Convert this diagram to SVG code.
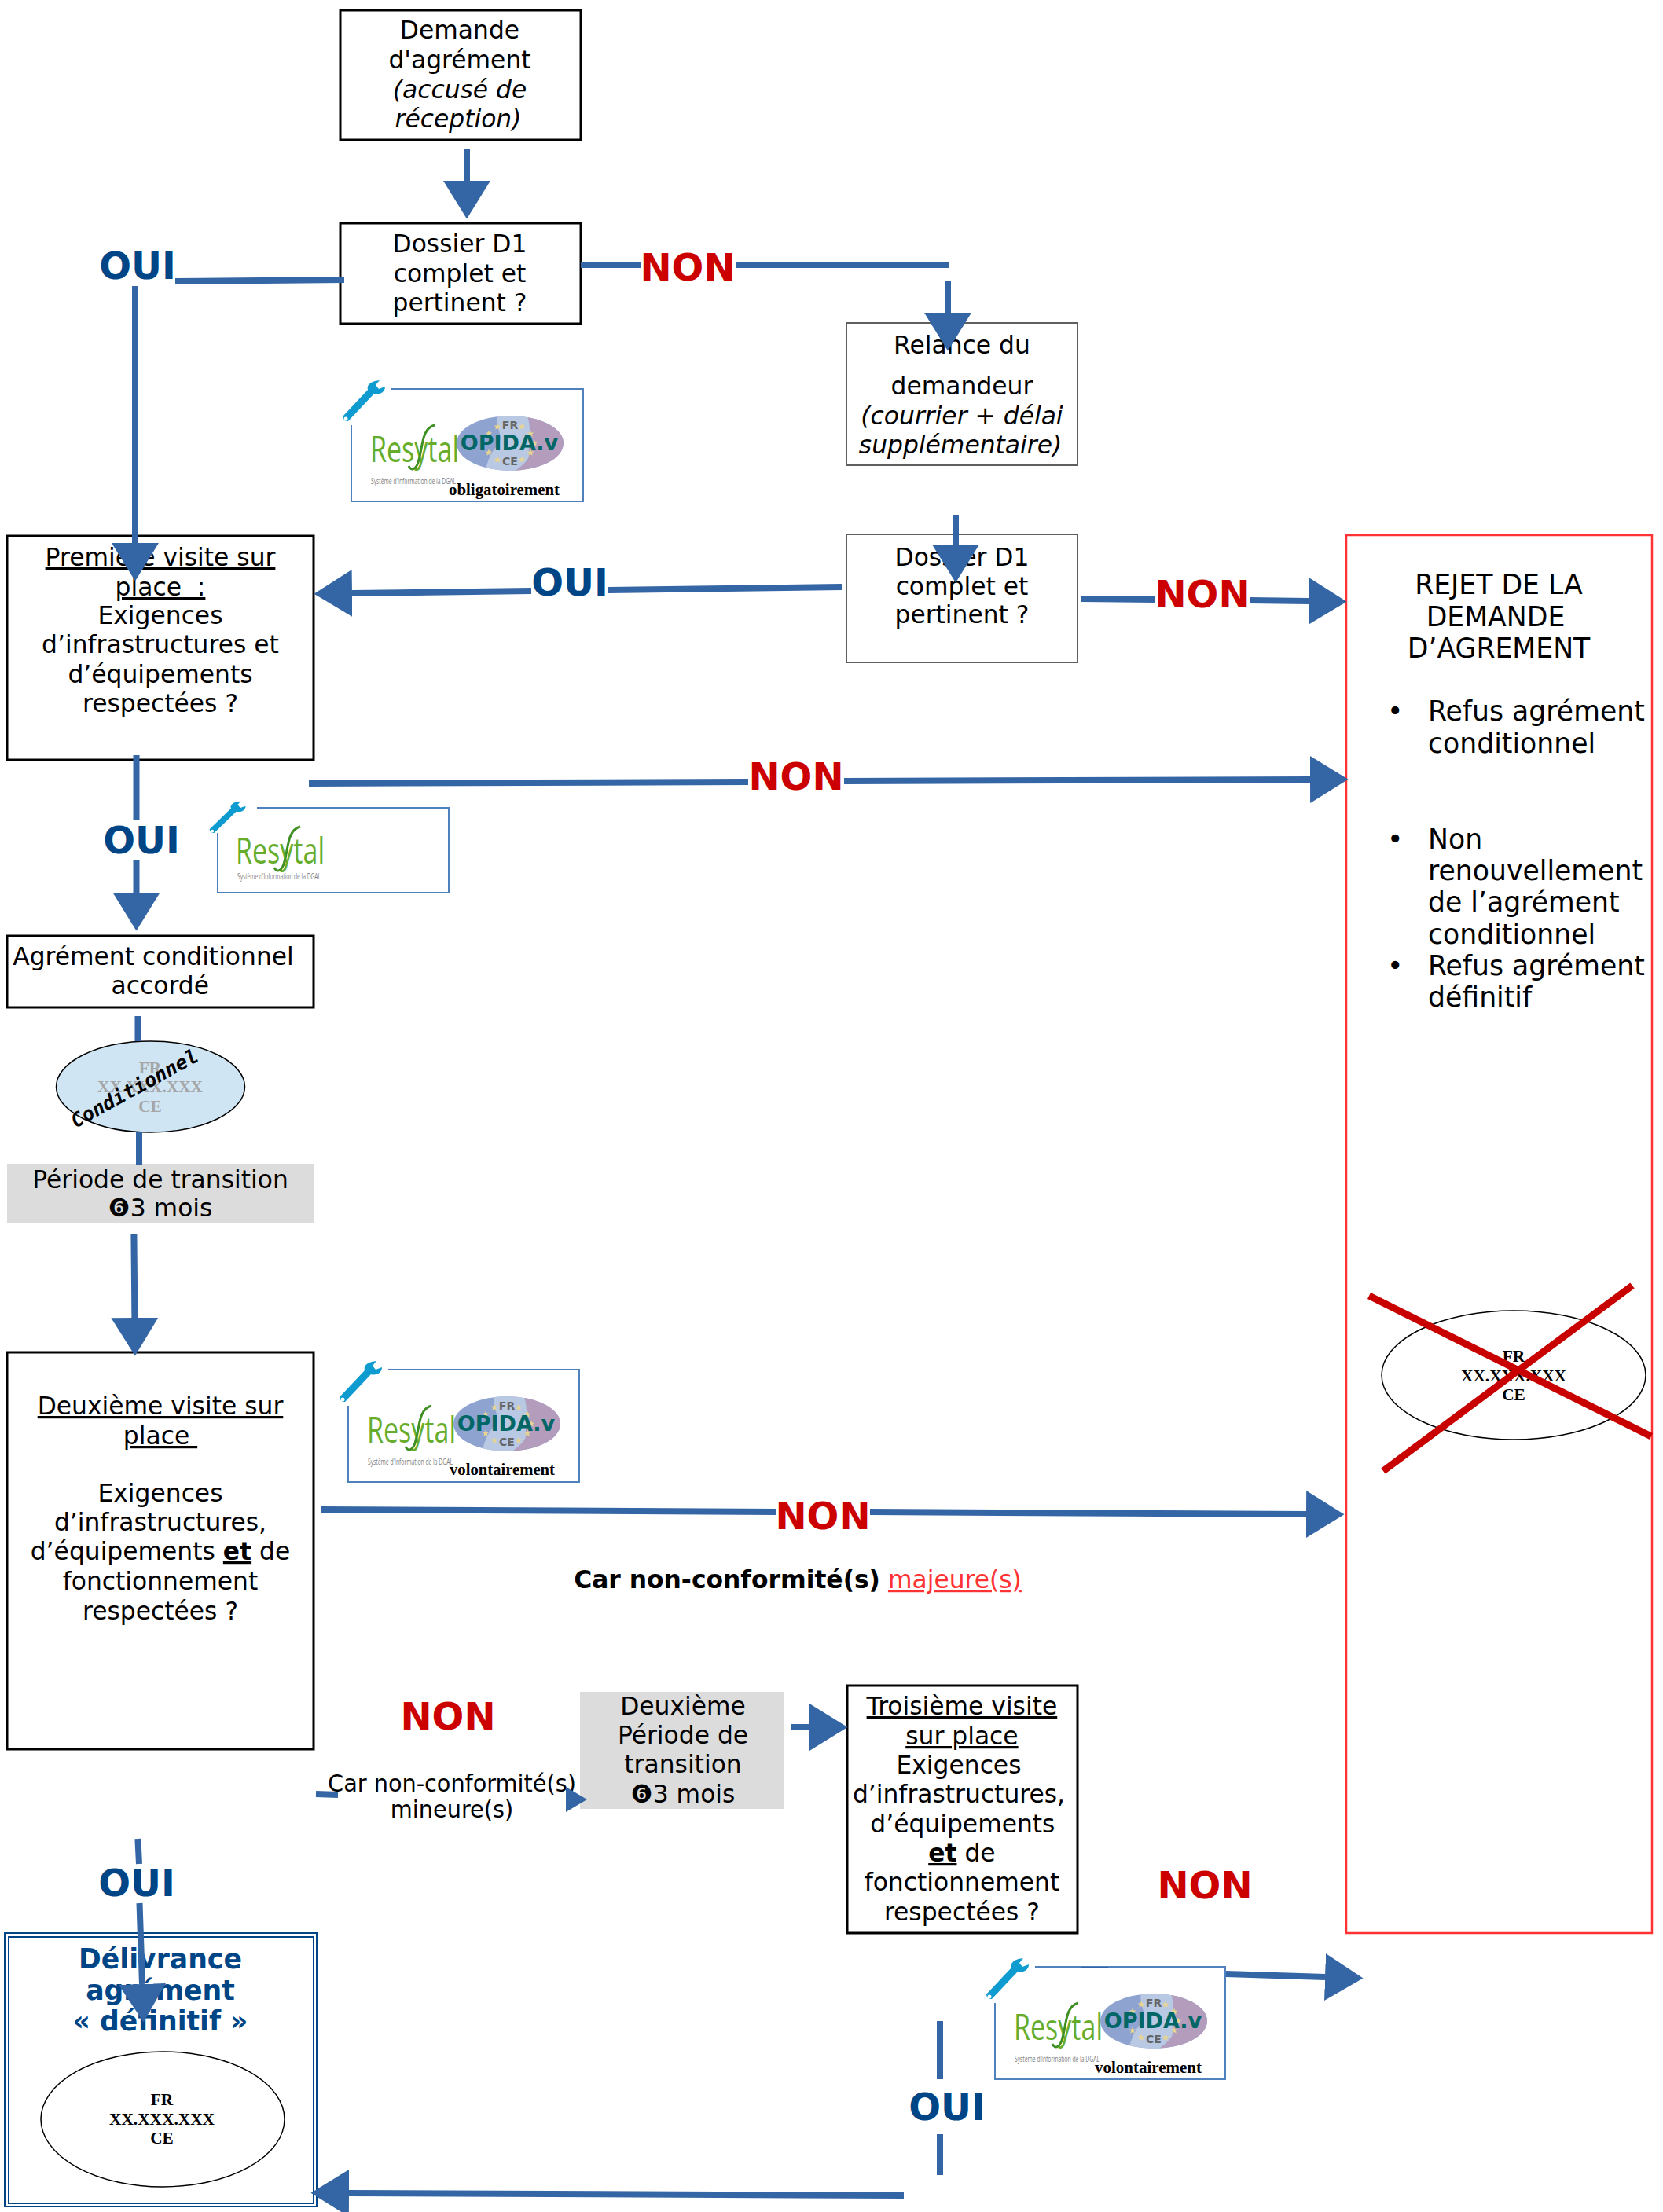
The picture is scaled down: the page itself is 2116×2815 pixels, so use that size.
<svg xmlns="http://www.w3.org/2000/svg" width="2116" height="2815" viewBox="0 0 2116 2815">
<style>
text{font-family:"DejaVu Sans",sans-serif;fill:#000}
.t{font-size:32px;text-anchor:middle;transform-box:fill-box;transform-origin:center;transform:scaleX(.98)}
.r{font-size:34.67px}
.nos{transform:none}
.i{font-style:italic}
.u{text-decoration:underline}
.b{font-weight:bold}
.oui{font-size:48px;font-weight:bold;fill:#004586;text-anchor:middle}
.non{font-size:48px;font-weight:bold;fill:#cc0000;text-anchor:middle}
.box{fill:#fff;stroke:#000;stroke-width:3}
.thin{fill:#fff;stroke:#5f5f5f;stroke-width:2}
.grey{fill:#dcdcdc}
.seal{fill:#fff;stroke:#000;stroke-width:1.5}
.s{font-family:"Liberation Serif",serif;font-weight:bold;font-size:21.33px;text-anchor:middle}
.frame{fill:none;stroke:#4f81bd;stroke-width:2}
.res{font-family:"Open Sans",sans-serif;font-size:45px;fill:#66ad2c}
.sys{font-family:"Open Sans",sans-serif;font-size:10px;fill:#808080}
.op{font-size:27px;font-weight:bold;fill:#006666;text-anchor:middle}
.fc{font-size:14px;font-weight:bold;fill:#666;text-anchor:middle}
.word{font-family:"Liberation Serif",serif;font-weight:bold;font-size:22px}
.c line{stroke:#3465a4;stroke-width:8;fill:none}
.x{stroke:#c80000;stroke-width:9}
</style>
<defs>
<marker id="h" markerUnits="userSpaceOnUse" markerWidth="50" markerHeight="60" refX="0" refY="30" orient="auto"><path d="M0 0L48.500 30L0 60z" fill="#3465a4"/></marker>
<clipPath id="oc"><ellipse cx="202" cy="69" rx="68" ry="35"/></clipPath>
<polygon id="st" points="0,-4.5 1.2,-1.5 4.5,-1.4 1.9,.6 2.8,3.8 0,2 -2.8,3.8 -1.9,.6 -4.5,-1.4 -1.2,-1.5" fill="#e6d492"/>
<g id="wrench"><path d="M-11 35L21 1C19-6 26-10 36-11L31-5L35 0L43-3C43 4 36 8 29 6L-4 41A6 6 0 0 1-11 35Z" fill="#0e9bd0"/><circle cx="-7" cy="38" r="2.500" fill="#fff"/></g>
<path id="swoosh" d="M106 46C90 50 91 72 86 90C83 103 76 105 73 98" fill="none" stroke="#3f8f23" stroke-width="3"/>
<g id="oval">
<g clip-path="url(#oc)"><rect x="134" y="34" width="136" height="70" fill="#8fa3d1"/><path d="M222 30C232 50 224 80 226 86C222 96 212 100 205 108L270 108V30Z" fill="#b49cbc"/><path d="M186 30C182 50 196 60 186 72C176 82 172 96 170 108L205 108C212 100 222 96 226 86C224 80 232 50 222 30Z" fill="#b9c9e4"/></g>
<use href="#st" x="186" y="48"/><use href="#st" x="217" y="48"/><use href="#st" x="175" y="57"/><use href="#st" x="228" y="57"/><use href="#st" x="233" y="69"/><use href="#st" x="175" y="81"/><use href="#st" x="228" y="81"/><use href="#st" x="186" y="90"/><use href="#st" x="217" y="90"/>
</g>
</defs>

<g id="demande"><rect class="box" x="433" y="13" width="306" height="165"/>
<text class="t"><tspan x="585" y="49">Demande</tspan><tspan x="585" y="87">d'agrément</tspan><tspan class="i" x="585" y="125">(accusé de</tspan><tspan class="i" x="583" y="162">réception)</tspan></text></g>

<g id="dossier1"><rect class="box" x="433" y="284" width="306" height="128"/>
<text class="t"><tspan x="585" y="321">Dossier D1</tspan><tspan x="585" y="359">complet et</tspan><tspan x="585" y="396">pertinent ?</tspan></text></g>

<g id="badge1" transform="translate(447 495)"><path class="frame" d="M0 46V143H295V0H51"/><use href="#wrench"/>
<text class="res" x="24" y="93" textLength="113" lengthAdjust="spacingAndGlyphs">Resytal</text><use href="#swoosh"/>
<text class="sys" x="25" y="121" textLength="108" lengthAdjust="spacingAndGlyphs">Système d'Information de la DGAL</text>
<use href="#oval"/><text class="fc" x="202" y="51">FR</text><text class="op" x="201" y="78">OPIDA.v</text><text class="fc" x="202" y="97">CE</text>
<text class="word" x="124" y="135" textLength="141" lengthAdjust="spacingAndGlyphs">obligatoirement</text></g>

<g id="relance"><rect class="thin" x="1077" y="411" width="294" height="181"/>
<text class="t"><tspan x="1224" y="450">Relance du</tspan><tspan x="1224" y="502">demandeur</tspan><tspan class="i" x="1224" y="540">(courrier + délai</tspan><tspan class="i" x="1222" y="577">supplémentaire)</tspan></text></g>

<g id="dossier2"><rect class="thin" x="1077" y="680" width="294" height="163"/>
<text class="t"><tspan x="1224" y="720">Dossier D1</tspan><tspan x="1224" y="757">complet et</tspan><tspan x="1224" y="793">pertinent ?</tspan></text></g>

<g id="premiere"><rect class="box" x="9" y="682" width="390" height="285"/>
<text class="t"><tspan class="u" x="204" y="720">Première visite sur</tspan><tspan class="u" x="204" y="758">place&#160; :</tspan><tspan x="204" y="794">Exigences</tspan><tspan x="204" y="831">d’infrastructures et</tspan><tspan x="204" y="869">d’équipements</tspan><tspan x="204" y="906">respectées ?</tspan></text></g>

<g id="rejet"><rect x="1713" y="681" width="389" height="1779" fill="#fff" stroke="#ff3333" stroke-width="2.500"/>
<text class="t r nos"><tspan x="1907" y="756">REJET DE LA</tspan><tspan x="1903" y="797">DEMANDE</tspan><tspan x="1907" y="837">D’AGREMENT</tspan></text>
<text class="r"><tspan x="1765" y="917">•</tspan><tspan x="1817" y="917">Refus agrément</tspan><tspan x="1817" y="958">conditionnel</tspan><tspan x="1765" y="1080">•</tspan><tspan x="1817" y="1080">Non</tspan><tspan x="1817" y="1120">renouvellement</tspan><tspan x="1817" y="1160">de l’agrément</tspan><tspan x="1817" y="1201">conditionnel</tspan><tspan x="1765" y="1241">•</tspan><tspan x="1817" y="1241">Refus agrément</tspan><tspan x="1817" y="1281">définitif</tspan></text>
<ellipse class="seal" cx="1926" cy="1750" rx="168" ry="82"/>
<text class="s"><tspan x="1926" y="1733">FR</tspan><tspan x="1926" y="1758">XX.XXX.XXX</tspan><tspan x="1926" y="1782">CE</tspan></text>
<line class="x" x1="1742" y1="1649" x2="2101" y2="1828"/><line class="x" x1="2077" y1="1636" x2="1760" y2="1872"/></g>

<g id="badge2" transform="translate(277 1028)"><path class="frame" d="M0 32V108H294V0H50"/><use href="#wrench" transform="translate(-1 0) scale(.85 .78)"/>
<text class="res" x="23" y="71" textLength="113" lengthAdjust="spacingAndGlyphs">Resytal</text><use href="#swoosh" transform="translate(-1 -22)"/>
<text class="sys" x="25" y="91" textLength="106" lengthAdjust="spacingAndGlyphs">Système d'Information de la DGAL</text></g>

<g id="agrement-conditionnel"><rect class="box" x="9" y="1191" width="390" height="91"/>
<text class="t"><tspan x="195" y="1228">Agrément conditionnel</tspan><tspan x="204" y="1265">accordé</tspan></text></g>

<g id="sceau-conditionnel"><ellipse cx="191.500" cy="1383" rx="120" ry="58" fill="#cfe5f4" stroke="#000" stroke-width="1.500"/>
<text class="s" style="fill:#a6a6a6"><tspan x="191" y="1366">FR</tspan><tspan x="191" y="1390">XX.XXX.XXX</tspan><tspan x="191" y="1415">CE</tspan></text>
<text transform="translate(96 1436) rotate(-28.7)" style="font-family:'DejaVu Sans Mono',monospace;font-weight:bold;font-style:italic;font-size:25px">Conditionnel</text></g>

<g id="transition1"><rect class="grey" x="9" y="1481" width="390" height="76"/>
<text class="t"><tspan x="204" y="1512">Période de transition</tspan><tspan x="204" y="1548">❻3 mois</tspan></text></g>

<g id="deuxieme"><rect class="box" x="9" y="1721" width="390" height="505"/>
<text class="t"><tspan class="u" x="204" y="1800">Deuxième visite sur</tspan><tspan class="u" x="204" y="1838">place&#160;</tspan><tspan x="204" y="1911">Exigences</tspan><tspan x="204" y="1948">d’infrastructures,</tspan><tspan x="204" y="1985">d’équipements <tspan class="b u">et</tspan> de</tspan><tspan x="204" y="2023">fonctionnement</tspan><tspan x="204" y="2061">respectées ?</tspan></text></g>

<g id="badge3" transform="translate(443 1743)"><path class="frame" d="M0 46V143H294V0H51"/><use href="#wrench"/>
<text class="res" x="24" y="93" textLength="113" lengthAdjust="spacingAndGlyphs">Resytal</text><use href="#swoosh"/>
<text class="sys" x="25" y="121" textLength="108" lengthAdjust="spacingAndGlyphs">Système d'Information de la DGAL</text>
<use href="#oval"/><text class="fc" x="202" y="51">FR</text><text class="op" x="201" y="78">OPIDA.v</text><text class="fc" x="202" y="97">CE</text>
<text class="word" x="129" y="134" textLength="134" lengthAdjust="spacingAndGlyphs">volontairement</text></g>

<g id="motif-majeur"><text class="t" x="1015" y="2021"><tspan class="b">Car non-conformité(s)</tspan> <tspan class="u" style="fill:#ff3333">majeure(s)</tspan></text></g>

<g id="motif-mineur"><text class="t" style="font-size:29.33px"><tspan x="575" y="2280">Car non-conformité(s)</tspan><tspan x="575" y="2313">mineure(s)</tspan></text></g>

<g id="transition2"><rect class="grey" x="738" y="2153" width="259" height="149"/>
<text class="t"><tspan x="869" y="2182">Deuxième</tspan><tspan x="869" y="2219">Période de</tspan><tspan x="869" y="2256">transition</tspan><tspan x="869" y="2294">❻3 mois</tspan></text></g>

<g id="troisieme"><rect class="box" x="1078" y="2145" width="293" height="315"/>
<text class="t"><tspan class="u" x="1224" y="2182">Troisième visite</tspan><tspan class="u" x="1224" y="2220">sur place</tspan><tspan x="1220" y="2257">Exigences</tspan><tspan x="1220" y="2294">d’infrastructures,</tspan><tspan x="1225" y="2332">d’équipements</tspan><tspan x="1224" y="2369"><tspan class="b u">et</tspan> de</tspan><tspan x="1224" y="2406">fonctionnement</tspan><tspan x="1224" y="2444">respectées ?</tspan></text></g>

<g id="badge4" transform="translate(1266 2503)"><path class="frame" d="M0 46V143H293V0H51"/><use href="#wrench"/>
<text class="res" x="24" y="93" textLength="113" lengthAdjust="spacingAndGlyphs">Resytal</text><use href="#swoosh"/>
<text class="sys" x="25" y="121" textLength="108" lengthAdjust="spacingAndGlyphs">Système d'Information de la DGAL</text>
<use href="#oval"/><text class="fc" x="202" y="51">FR</text><text class="op" x="201" y="78">OPIDA.v</text><text class="fc" x="202" y="97">CE</text>
<text class="word" x="127" y="135" textLength="136" lengthAdjust="spacingAndGlyphs">volontairement</text></g>

<g id="delivrance"><rect x="6" y="2460" width="397" height="348" fill="#fff" stroke="#004586" stroke-width="2"/><rect x="11" y="2465" width="388" height="339" fill="none" stroke="#004586" stroke-width="2"/>
<text class="t b nos" style="font-size:34.67px;fill:#004586"><tspan x="204" y="2505">Délivrance</tspan><tspan x="204" y="2545">agrément</tspan><tspan x="204" y="2584">« définitif »</tspan></text>
<ellipse class="seal" cx="207" cy="2697" rx="155" ry="86"/>
<text class="s"><tspan x="206" y="2679">FR</tspan><tspan x="206" y="2704">XX.XXX.XXX</tspan><tspan x="206" y="2728">CE</tspan></text></g>

<g id="connectors" class="c">
<line x1="594" y1="190" x2="594" y2="230" marker-end="url(#h)"/>
<line x1="223" y1="358" x2="438" y2="356"/>
<line x1="172" y1="364" x2="172" y2="691" marker-end="url(#h)"/>
<line x1="739" y1="337" x2="815" y2="337"/>
<line x1="936" y1="337" x2="1207" y2="337"/>
<line x1="1206" y1="358" x2="1206" y2="398" marker-end="url(#h)"/>
<line x1="1216" y1="656" x2="1216" y2="693" marker-end="url(#h)"/>
<line x1="1376" y1="762" x2="1470" y2="763"/>
<line x1="1590" y1="764" x2="1665" y2="765" marker-end="url(#h)"/>
<line x1="1071" y1="747" x2="774" y2="751"/>
<line x1="676" y1="752" x2="448" y2="755" marker-end="url(#h)"/>
<line x1="173.500" y1="961" x2="173.500" y2="1044"/>
<line x1="173.500" y1="1095" x2="173.500" y2="1136" marker-end="url(#h)"/>
<line x1="393" y1="997" x2="952" y2="995"/>
<line x1="1074" y1="994" x2="1667" y2="992" marker-end="url(#h)"/>
<line x1="175.500" y1="1293" x2="175.500" y2="1325"/>
<line x1="177" y1="1440" x2="177" y2="1482"/>
<line x1="170.400" y1="1570" x2="171.400" y2="1677" marker-end="url(#h)"/>
<line x1="408" y1="1921" x2="988" y2="1924"/>
<line x1="1107" y1="1924" x2="1662" y2="1927" marker-end="url(#h)"/>
<line x1="402" y1="2283" x2="430" y2="2284"/>
<polygon points="720,2274 747,2290 720,2306" fill="#3465a4"/>
<line x1="1007" y1="2198" x2="1030" y2="2198" marker-end="url(#h)"/>
<line x1="1376" y1="2504" x2="1410" y2="2504" style="stroke-width:2"/>
<line x1="1560" y1="2512" x2="1686" y2="2516" marker-end="url(#h)"/>
<line x1="175.400" y1="2340" x2="177" y2="2372"/>
<line x1="177.500" y1="2422" x2="181" y2="2525" marker-end="url(#h)"/>
<line x1="1196" y1="2572" x2="1196" y2="2646"/>
<line x1="1196" y1="2716" x2="1196" y2="2768"/>
<line x1="1150" y1="2794" x2="444" y2="2791" marker-end="url(#h)"/>
</g>

<g id="labels">
<text class="oui" x="175" y="355">OUI</text>
<text class="non" x="875" y="357">NON</text>
<text class="oui" x="725" y="758">OUI</text>
<text class="non" x="1530" y="773">NON</text>
<text class="non" x="1013" y="1005">NON</text>
<text class="oui" x="180" y="1086">OUI</text>
<text class="non" x="1047" y="1946">NON</text>
<text class="non" x="570" y="2201">NON</text>
<text class="oui" x="174" y="2413">OUI</text>
<text class="non" x="1533" y="2416">NON</text>
<text class="oui" x="1205" y="2698">OUI</text>
</g>
</svg>
